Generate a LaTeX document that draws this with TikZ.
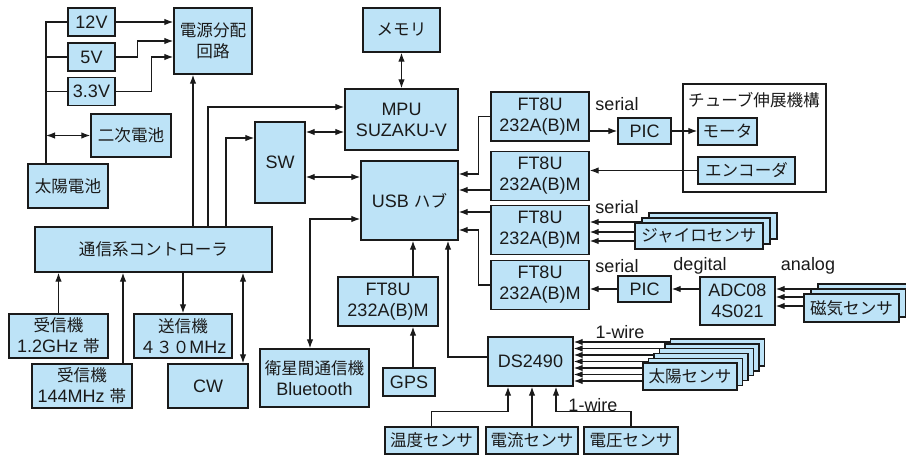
\documentclass[tikz,border=0pt]{standalone}
\usepackage{fontspec}
\setmainfont{Liberation Sans}
\newfontfamily\jp[Scale=0.92]{Noto Sans CJK JP}
\usepackage{xcolor}
\definecolor{BoxBlue}{HTML}{BDE3F7}
\definecolor{LineGray}{HTML}{1A1A1A}
\usetikzlibrary{arrows.meta,positioning,calc}
\pgfdeclarelayer{background}
\pgfsetlayers{background,main}

\begin{document}
\begin{tikzpicture}[x=1pt, y=-1pt,
        blk/.style={draw=LineGray, fill=BoxBlue, line width=1.4pt, inner sep=0pt, align=center,
            text=LineGray, font=\fontsize{18}{21}\selectfont},
        jtext/.style={font=\fontsize{18}{21}\selectfont\jp},
        tag/.style={inner sep=0pt, text=LineGray, font=\fontsize{18}{21}\selectfont},
        wire/.style={line width=1.2pt, LineGray},
        arr/.style={wire, -{Latex[length=9pt,width=6.5pt]}},
        darr/.style={wire, {Latex[length=9pt,width=6.5pt]}-{Latex[length=9pt,width=6.5pt]}}
    ]
        \useasboundingbox (0,0) rectangle (906,455);

        % Power supply: solar cell, rails, secondary battery
        \node[blk, minimum width=47pt, minimum height=28pt] (v12) at (91.5,22) {12V};
        \node[blk, minimum width=47pt, minimum height=28pt] (v5) at (91.5,57) {5V};
        \node[blk, minimum width=47pt, minimum height=28pt] (v33) at (91.5,91.5) {3.3V};
        \node[blk, jtext, minimum width=80pt, minimum height=43pt] (batt) at (131,135.5) {二次電池};
        \node[blk, jtext, minimum width=80pt, minimum height=44pt] (solar) at (68,186) {太陽電池};
        \node[blk, jtext, minimum width=78pt, minimum height=66pt] (pdist) at (213,41) {電源分配\\回路};

        % Processor, memory, switch and hub
        \node[blk, jtext, minimum width=77pt, minimum height=44pt] (mem) at (401.5,30) {メモリ};
        \node[blk, minimum width=113pt, minimum height=61pt] (mpu) at (401.5,119.5) {MPU\\SUZAKU-V};
        \node[blk, minimum width=50pt, minimum height=81pt] (sw) at (280,162.5) {SW};
        \node[blk, minimum width=97pt, minimum height=79pt] (usb) at (409.5,200.5) {USB {\jp ハブ}};

        % USB-serial converters
        \foreach \n/\y in {ft1/116.5, ft2/176, ft3/230, ft4/285}
            \node[blk, minimum width=98pt, minimum height=49pt] (\n) at (540,\y) {FT8U\\232A(B)M};

        % Tube extension mechanism
        \node[blk, minimum width=53pt, minimum height=26pt] (pic1) at (644.5,131) {PIC};
        \node[draw=LineGray, line width=1.4pt, inner sep=0pt, minimum width=143pt, minimum height=108pt] (tube) at (754.5,138) {};
        \node[tag, jtext, anchor=west] (tubetitle) at (688,100) {チューブ伸展機構};
        \node[blk, jtext, minimum width=59pt, minimum height=27pt] (motor) at (727.5,131.5) {モータ};
        \node[blk, jtext, minimum width=97pt, minimum height=27pt] (enc) at (746.5,170.5) {エンコーダ};

        % Gyro sensors (stacked)
        \foreach \k in {2,1}
            \node[blk, minimum width=128pt, minimum height=26pt] at (699+7*\k,236-5*\k) {};
        \node[blk, jtext, minimum width=128pt, minimum height=26pt] (gyro) at (699,236) {ジャイロセンサ};

        % Magnetic sensors via ADC and PIC
        \node[blk, minimum width=53pt, minimum height=26pt] (pic2) at (644.5,289) {PIC};
        \node[blk, minimum width=75pt, minimum height=48pt] (adc) at (737.5,301) {ADC08\\4S021};
        \foreach \k in {2,1}
            \node[blk, minimum width=95pt, minimum height=28pt] at (851.5+7*\k,308-5*\k) {};
        \node[blk, jtext, minimum width=95pt, minimum height=28pt] (mag) at (851.5,308) {磁気センサ};

        \node[tag] (ser1) at (617,104) {serial};
        \node[tag] (ser2) at (617,207) {serial};
        \node[tag] (ser3) at (617,266) {serial};
        \node[tag] (dig) at (700,266) {degital};
        \node[tag] (ana) at (808,266) {analog};

        % Communication controller and radios
        \node[blk, jtext, minimum width=237pt, minimum height=45pt] (comm) at (153.5,249.5) {通信系コントローラ};
        \node[blk, minimum width=99pt, minimum height=44pt] (rx12) at (58.5,336) {{\jp 受信機}\\1.2GHz {\jp 帯}};
        \node[blk, minimum width=100pt, minimum height=44pt] (rx144) at (82,386) {{\jp 受信機}\\144MHz {\jp 帯}};
        \node[blk, minimum width=98pt, minimum height=44pt] (tx) at (183,336) {{\jp 送信機}\\{\jp ４３０}MHz};
        \node[blk, minimum width=80pt, minimum height=44pt] (cw) at (208,386) {CW};
        \node[blk, minimum width=109pt, minimum height=58pt] (bt) at (314.5,378) {{\jp 衛星間通信機}\\Bluetooth};
        \node[blk, minimum width=100pt, minimum height=49pt] (ftg) at (388,301.5) {FT8U\\232A(B)M};
        \node[blk, minimum width=52pt, minimum height=28pt] (gps) at (409,382) {GPS};

        % 1-wire bus
        \node[blk, minimum width=85pt, minimum height=49pt] (ds) at (530.5,361.5) {DS2490};
        \foreach \k in {5,...,1}
            \node[blk, minimum width=94pt, minimum height=27pt] at (690+5.5*\k,376.5-4.8*\k) {};
        \node[blk, jtext, minimum width=94pt, minimum height=27pt] (sun) at (690,376.5) {太陽センサ};
        \node[blk, jtext, minimum width=93pt, minimum height=27pt] (temp) at (431.5,440.5) {温度センサ};
        \node[blk, jtext, minimum width=92pt, minimum height=27pt] (cur) at (532,440.5) {電流センサ};
        \node[blk, jtext, minimum width=94pt, minimum height=27pt] (volt) at (631,440.5) {電圧センサ};
        \node[tag] (wire1) at (620,332) {1-wire};
        \node[tag] (wire2) at (593,405) {1-wire};

        % Power connections
        \coordinate (bus) at (46,22);
        \draw[wire] (solar.north -| bus) -- (bus) -- (v12.west);
        \draw[wire] (bus |- v5.west) -- (v5.west);
        \draw[wire] (bus |- v33.west) -- (v33.west);
        \draw[darr] (bus |- batt.west) -- (batt.west);
        \draw[arr] (v12.east) -- (v12.east -| pdist.west);
        \draw[arr] (v5.east) -- ++(22,0) |- (pdist.west);
        \draw[arr] (v33.east) -- ++(36,0) |- ([yshift=-16pt]pdist.west);

        % Controller outputs
        \coordinate (cp) at ([xshift=39.5pt]comm.north);
        \coordinate (cm) at ([xshift=54.5pt]comm.north);
        \coordinate (cs) at ([xshift=72.5pt]comm.north);
        \draw[arr] (cp) -- (cp |- pdist.south);
        \draw[arr] (cm) |- ([yshift=12.5pt]mpu.west);
        \draw[arr] (cs) |- ([yshift=24.5pt]sw.west);

        % Switch, memory, hub
        \coordinate (mw) at ([yshift=-12.5pt]mpu.west);
        \coordinate (uw) at ([yshift=23.5pt]usb.west);
        \draw[darr] (sw.east |- mw) -- (mw);
        \draw[darr] (sw.east |- uw) -- (uw);
        \draw[darr] (mem.south) -- (mpu.north);
        \draw[darr] ([yshift=-18.5pt]usb.west) -| ([xshift=-4.5pt]bt.north);

        % Into the hub
        \coordinate (gx) at ([xshift=25pt]ftg.north);
        \draw[arr] (gx) -- (gx |- usb.south);
        \draw[arr] (gps.north -| gx) -- (gx |- ftg.south);
        \draw[arr] ([yshift=4.5pt]ds.west) -| ([xshift=38.5pt]usb.south);
        \coordinate (u2) at ([yshift=10.5pt]usb.east);
        \coordinate (u3) at ([yshift=-11.5pt]usb.east);
        \draw[arr] (ft1.west) -- ++(-12,0) |- ([yshift=26.5pt]usb.east);
        \draw[arr] (ft2.west |- u2) -- (u2);
        \draw[arr] (ft3.west |- u3) -- (u3);
        \draw[arr] (ft4.west) -- ++(-12,0) |- ([yshift=-29.5pt]usb.east);

        % Right-hand chains
        \draw[arr] (ft1.east |- pic1.west) -- (pic1.west);
        \draw[arr] (pic1.east) -- (pic1.east -| motor.west);
        \draw[arr] (enc.west) -- (enc.west -| ft2.east);
        \draw[arr] (adc.west |- pic2.east) -- (pic2.east);
        \draw[arr] (pic2.west) -- (pic2.west -| ft4.east);

        % Sensor bundles run behind their stacked boxes
        \begin{pgfonlayer}{background}
            \foreach \d in {14,4,-5} {
                \coordinate (gy) at ([yshift=\d pt]gyro.west);
                \draw[arr] ([xshift=45pt]gy) -- (gy -| ft3.east);
            }
            \foreach \d in {19,11,2} {
                \coordinate (mg) at ([yshift=\d pt]mag.west);
                \draw[arr] ([xshift=26pt]mg) -- (mg -| adc.east);
            }
            \foreach \d in {19.5,13,6.5,0,-6.5,-13,-19.5} {
                \coordinate (sn) at ([yshift=\d pt]ds.east);
                \draw[arr] ([xshift=127pt]sn) -- (sn);
            }
        \end{pgfonlayer}

        % Radios
        \coordinate (rq) at ([xshift=41pt]rx144.north);
        \coordinate (cq) at ([xshift=35pt]cw.north);
        \draw[arr] (rx12.north) -- (rx12.north |- comm.south);
        \draw[arr] (rq) -- (rq |- comm.south);
        \draw[arr] (tx.north |- comm.south) -- (tx.north);
        \draw[darr] (cq) -- (cq |- comm.south);

        % Housekeeping sensors on 1-wire
        \draw[arr] (temp.north) -- ++(0,-15) -| ([xshift=-22.5pt]ds.south);
        \draw[arr] (cur.north) -- (cur.north |- ds.south);
        \draw[arr] (volt.north) -- ++(0,-15) -| ([xshift=25.5pt]ds.south);
    \end{tikzpicture}
\end{document}
